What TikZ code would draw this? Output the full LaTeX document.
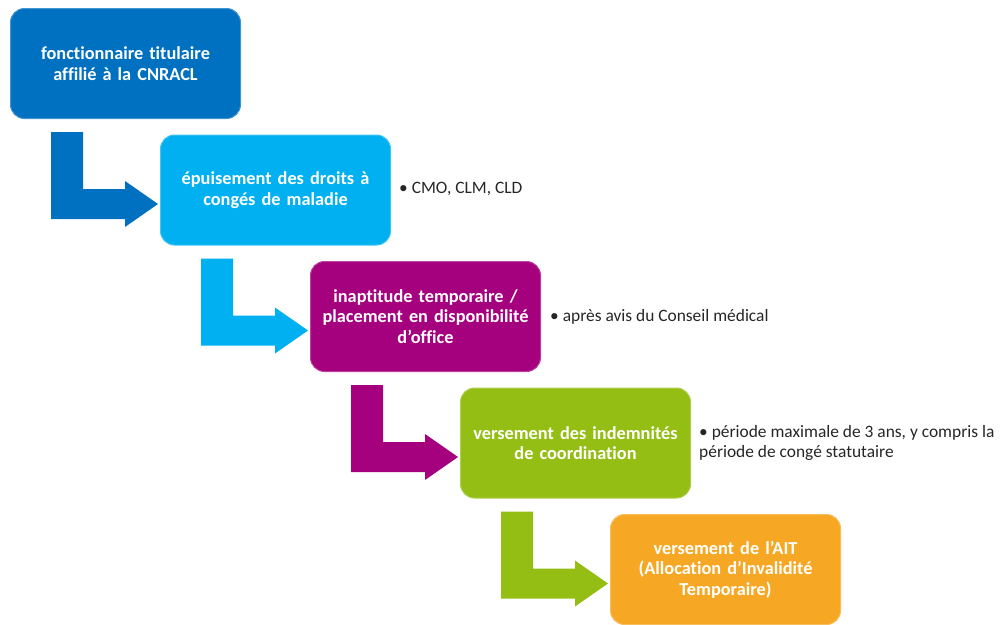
\documentclass[tikz,border=0pt]{standalone}
\usepackage{fontspec}
\setmainfont{Carlito}[Ligatures=NoCommon]
\usetikzlibrary{calc}

\definecolor{stepblue}{RGB}{0,112,192}
\definecolor{stepcyan}{RGB}{0,176,240}
\definecolor{steppurple}{RGB}{165,0,125}
\definecolor{stepgreen}{RGB}{148,190,20}
\definecolor{steporange}{RGB}{246,168,36}
\definecolor{notegray}{RGB}{38,38,38}

% bent block arrow leaving the bottom of a step box
\newcommand\stepflow[2]{%
  \fill[#2] ($(#1.south west)+(41,13)$) -- ($(#1.south west)+(73,13)$)
    -- ($(#1.south west)+(73,70)$) -- ($(#1.south west)+(115,70)$)
    -- ($(#1.south west)+(115,62)$) -- ($(#1.south west)+(148,85)$)
    -- ($(#1.south west)+(115,108)$) -- ($(#1.south west)+(115,100)$)
    -- ($(#1.south west)+(41,100)$) -- cycle;}

\begin{document}
\begin{tikzpicture}[x=1pt,y=-1pt,
  stepbox/.style={anchor=north west, rounded corners=14pt,
    minimum width=230pt, minimum height=110pt, text width=222pt,
    align=center, text=white, inner sep=0pt,
    font=\fontsize{18.3}{20.5}\selectfont\bfseries},
  note/.style={anchor=west, align=left, text=notegray, inner sep=0pt,
    font=\fontsize{17.4}{19.5}\selectfont}]
  \useasboundingbox (0,0) rectangle (1000,624);

  \node[stepbox, fill=stepblue, draw=stepblue!75!white, line width=1pt] (b1) at (10,8)
    {fonctionnaire titulaire\\affilié à la CNRACL};
  \node[stepbox, fill=stepcyan, draw=stepcyan!75!white, line width=1pt] (b2) at (160,134.5)
    {épuisement des droits à\\congés de maladie};
  \node[stepbox, fill=steppurple, draw=steppurple!75!white, line width=1pt] (b3) at (310,261)
    {inaptitude temporaire /\\placement en disponibilité\\d’office};
  \node[stepbox, fill=stepgreen, draw=stepgreen!75!white, line width=1pt] (b4) at (460,387.5)
    {versement des indemnités\\de coordination};
  \node[stepbox, fill=steporange, draw=steporange!75!white, line width=1pt] (b5) at (610,514)
    {versement de l’AIT\\(Allocation d’Invalidité\\Temporaire)};

  \stepflow{b1}{stepblue}
  \stepflow{b2}{stepcyan}
  \stepflow{b3}{steppurple}
  \stepflow{b4}{stepgreen}

  \node[note] (n2) at ($(b2.east)+(8,-1)$) {• CMO, CLM, CLD};
  \node[note] (n3) at ($(b3.east)+(9,0)$) {• après avis du Conseil médical};
  \node[note] (n4) at ($(b4.east)+(8,0)$) {• période maximale de 3 ans, y compris la\\période de congé statutaire};
\end{tikzpicture}
\end{document}
